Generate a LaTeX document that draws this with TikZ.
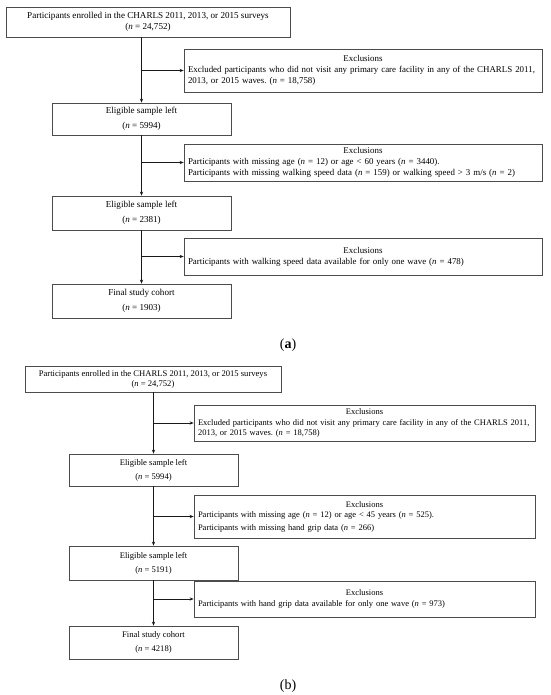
\documentclass[tikz,border=0pt]{standalone}
\usepackage{fontspec}
\setmainfont{Liberation Serif}
\usetikzlibrary{arrows.meta}
\frenchspacing
\tikzset{
  box/.style={draw=black!70, line width=0.7pt, inner ysep=0pt, inner xsep=4pt, anchor=center},
  mainA/.style={box, align=center, font=\fontsize{9.1}{10.5}\selectfont},
  mainB/.style={box, align=center, font=\fontsize{8.6}{10}\selectfont},
  exA/.style={box, align=left, text width=350pt, font=\fontsize{8.9}{11}\selectfont},
  exB/.style={box, align=left, text width=333pt, font=\fontsize{8.5}{10.5}\selectfont},
  arr/.style={draw=black!90, line width=0.7pt, -{Stealth[length=4pt,width=3.2pt]}},
  lbl/.style={font=\fontsize{14}{16}\selectfont, inner sep=0pt},
}
\newcommand{\nn}{\textit{n}}
\begin{document}
\begin{tikzpicture}[x=1pt,y=-1pt]
\useasboundingbox (0,0) rectangle (550,695);
% ---------------- panel (a)
\node[mainA, minimum width=284pt, minimum height=30pt] (A1) at (148,22)
  {Participants enrolled in the CHARLS 2011, 2013, or 2015 surveys\\(\nn{} = 24,752)};
\node[exA, minimum height=43pt] (E1) at (363,70.5)
  {{\centering Exclusions\par}\mbox{Excluded participants who did not visit any primary care facility in any of the CHARLS 2011,}\\2013, or 2015 waves. (\nn{} = 18,758)};
\node[mainA, minimum width=179pt, minimum height=32pt] (A2) at (141.5,119)
  {Eligible sample left\\[4pt](\nn{} = 5994)};
\node[exA, minimum height=37pt] (E2) at (363,162.5)
  {{\centering Exclusions\par}\mbox{Participants with missing age (\nn{} = 12) or age < 60 years (\nn{} = 3440).}\\\mbox{Participants with missing walking speed data (\nn{} = 159) or walking speed > 3 m/s (\nn{} = 2)}};
\node[mainA, minimum width=179pt, minimum height=34pt] (A3) at (141.5,213)
  {Eligible sample left\\[4pt](\nn{} = 2381)};
\node[exA, minimum height=37pt] (E3) at (363,256.5)
  {{\centering Exclusions\par}\mbox{Participants with walking speed data available for only one wave (\nn{} = 478)}};
\node[mainA, minimum width=179pt, minimum height=34pt] (A4) at (141.5,301)
  {Final study cohort\\[4pt](\nn{} = 1903)};
\node[lbl] (La) at (288,345) {(\textbf{a})};
\draw[arr] (A1.south -| A2.north) -- (A2.north);
\draw[arr] (E1.west -| A2.north) -- (E1.west);
\draw[arr] (A2.south) -- (A3.north);
\draw[arr] (E2.west -| A2.south) -- (E2.west);
\draw[arr] (A3.south) -- (A4.north);
\draw[arr] (E3.west -| A3.south) -- (E3.west);
% ---------------- panel (b)
\node[mainB, minimum width=256pt, minimum height=26pt] (B1) at (153,379)
  {Participants enrolled in the CHARLS 2011, 2013, or 2015 surveys\\(\nn{} = 24,752)};
\node[exB, minimum height=36pt] (F1) at (364.5,423)
  {{\centering Exclusions\par}\mbox{Excluded participants who did not visit any primary care facility in any of the CHARLS 2011,}\\2013, or 2015 waves. (\nn{} = 18,758)};
\node[mainB, minimum width=169pt, minimum height=32pt] (B2) at (153.5,470)
  {Eligible sample left\\[4pt](\nn{} = 5994)};
\node[exB, minimum height=43pt] (F2) at (364.5,516.5)
  {{\centering Exclusions\par}\mbox{Participants with missing age (\nn{} = 12) or age < 45 years (\nn{} = 525).}\\[2pt]\mbox{Participants with missing hand grip data (\nn{} = 266)}};
\node[mainB, minimum width=169pt, minimum height=34pt] (B3) at (153.5,563)
  {Eligible sample left\\[4pt](\nn{} = 5191)};
\node[exB, minimum height=36pt] (F3) at (364.5,599)
  {{\centering Exclusions\par}\mbox{Participants with hand grip data available for only one wave (\nn{} = 973)}};
\node[mainB, minimum width=169pt, minimum height=33pt] (B4) at (153.5,642.5)
  {Final study cohort\\[4pt](\nn{} = 4218)};
\node[lbl] (Lb) at (288,686) {(b)};
\draw[arr] (B1.south -| B2.north) -- (B2.north);
\draw[arr] (F1.west -| B2.north) -- (F1.west);
\draw[arr] (B2.south) -- (B3.north);
\draw[arr] (F2.west -| B2.south) -- (F2.west);
\draw[arr] (B3.south) -- (B4.north);
\draw[arr] (F3.west -| B3.south) -- (F3.west);
\end{tikzpicture}
\end{document}
